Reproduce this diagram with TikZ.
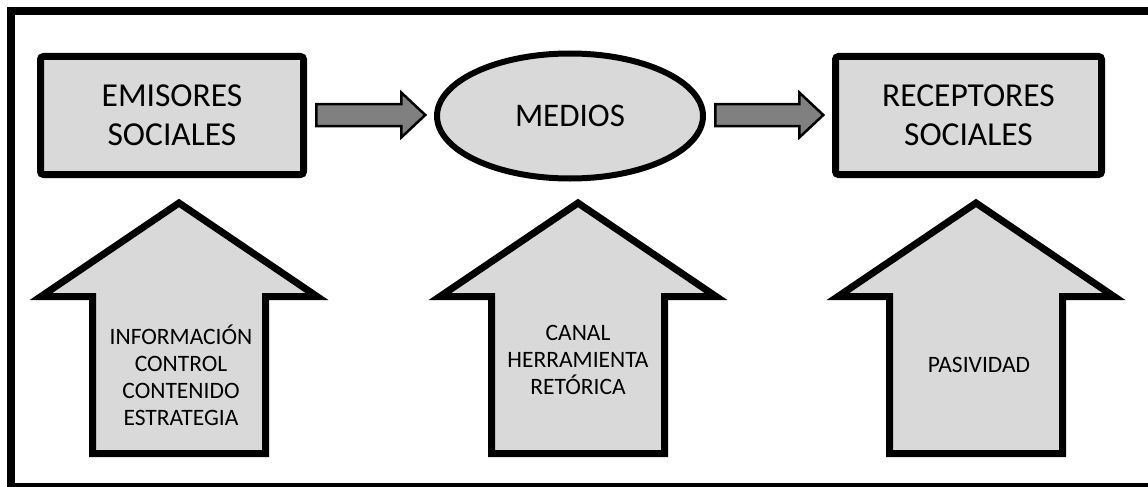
\documentclass[tikz,border=0pt]{standalone}
\usepackage{fontspec}
\setmainfont{Carlito}
\usetikzlibrary{calc,shapes.geometric}

\definecolor{boxgray}{HTML}{D9D9D9}
\definecolor{flowgray}{HTML}{808080}

\tikzset{
  actor/.style={draw=black, fill=boxgray, line width=7pt, rounded corners=3pt,
    minimum width=263pt, minimum height=118pt, inner sep=0pt, align=center,
    font=\fontsize{33.5}{39}\selectfont},
  channel/.style={draw=black, fill=boxgray, ellipse, line width=6pt,
    minimum width=266pt, minimum height=125pt, inner sep=0pt, align=center,
    font=\fontsize{33}{39}\selectfont},
  flowarrow/.style={draw=black, fill=flowgray, line width=2.5pt, line join=miter},
  bigarrow/.style={draw=black, fill=boxgray, line width=7pt, line join=miter},
  note/.style={inner sep=0pt, align=center, font=\fontsize{23.5}{27}\selectfont},
  uparrow/.pic={
    \draw[bigarrow] (0,203) -- (138,296.5) -- (86.5,296.5) -- (86.5,453.5)
      -- (-86.5,453.5) -- (-86.5,296.5) -- (-138,296.5) -- cycle;
  }
}

% block arrow from coordinate #1 to coordinate #2 (same height)
\newcommand\flowshape[2]{%
  \draw[flowarrow] (#1) -- ++(0,-11) -- ($(#2)+(-24,-11)$) -- ($(#2)+(-24,-22.5)$)
    -- (#2) -- ($(#2)+(-24,22.5)$) -- ($(#2)+(-24,11)$) -- ($(#1)+(0,11)$) -- cycle;
}

\begin{document}
\begin{tikzpicture}[x=1pt,y=-1pt]
  \useasboundingbox (0,0) rectangle (1148,487);
  \clip (0,0) rectangle (1148,487);
  \fill[white] (0,0) rectangle (1148,487);

  % outer frame
  \draw[line width=8pt] (11,11) rectangle (1160,487);

  % main chain
  \node[actor]   (emi) at (172,115.5) {EMISORES\\SOCIALES};
  \node[channel] (med) at (570,116)   {MEDIOS};
  \node[actor, minimum width=266pt] (rec) at (968.5,115.5) {RECEPTORES\\SOCIALES};

  \coordinate (s1) at ($(emi.east)+(9.25,-0.5)$);
  \coordinate (t1) at ($(s1 -| med.west)+(-8.75,0)$);
  \flowshape{s1}{t1}

  \coordinate (s2) at ($(med.east)+(9.25,-1)$);
  \coordinate (t2) at ($(s2 -| rec.west)+(-8.7,0)$);
  \flowshape{s2}{t2}

  % supporting arrows
  \pic at (179,0) {uparrow};
  \pic at (578,0) {uparrow};
  \pic at (976,0) {uparrow};

  \node[note] (inf) at (181,375) {INFORMACIÓN\\CONTROL\\CONTENIDO\\ESTRATEGIA};
  \node[note] (can) at (578,360) {CANAL\\HERRAMIENTA\\RETÓRICA};
  \node[note] (pas) at (979,365) {PASIVIDAD};
\end{tikzpicture}
\end{document}
